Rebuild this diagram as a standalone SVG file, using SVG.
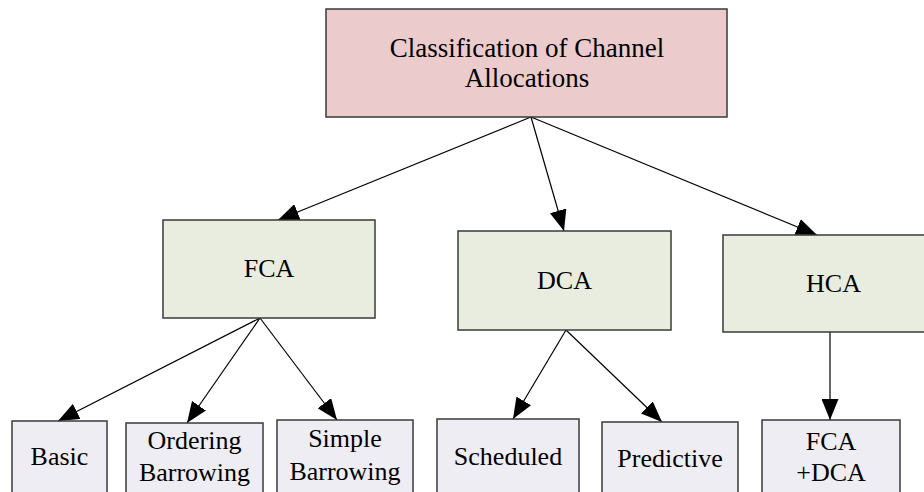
<svg xmlns="http://www.w3.org/2000/svg" width="924" height="492" viewBox="0 0 924 492">
  <defs>
    <marker id="arrow" markerUnits="userSpaceOnUse" markerWidth="22" markerHeight="17" refX="21" refY="8.5" orient="auto">
      <path d="M0,0 L21,8.5 L0,17 Z" fill="#000"/>
    </marker>
    <style>
      .box { stroke: #3a3a3a; stroke-width: 1.5; }
      .root { fill: #ebcbcb; }
      .mid { fill: #e9eddf; }
      .leaf { fill: #eeedf3; }
      .lbl { font-family: "Liberation Serif", "Times New Roman", serif; font-size: 26px; fill: #000; text-anchor: middle; }
      .edge { stroke: #000; stroke-width: 1.2; fill: none; marker-end: url(#arrow); }
    </style>
  </defs>
  <rect width="924" height="492" fill="#fff"/>

  <g id="connectors">
    <line class="edge" x1="531" y1="117" x2="278" y2="220"/>
    <line class="edge" x1="531" y1="117" x2="564" y2="231"/>
    <line class="edge" x1="531" y1="117" x2="817" y2="235"/>
    <line class="edge" x1="260" y1="318" x2="58" y2="421"/>
    <line class="edge" x1="260" y1="318" x2="187" y2="423"/>
    <line class="edge" x1="260" y1="318" x2="337" y2="420"/>
    <line class="edge" x1="566" y1="330" x2="513" y2="419"/>
    <line class="edge" x1="566" y1="330" x2="662" y2="422"/>
    <line class="edge" x1="830" y1="332" x2="830" y2="420"/>
  </g>

  <g id="root">
    <rect class="box root" x="326" y="9" width="401" height="108"/>
    <text class="lbl" x="527" y="57" style="font-size:27px">Classification of Channel</text>
    <text class="lbl" x="527" y="87" style="font-size:27px">Allocations</text>
  </g>

  <g id="fca">
    <rect class="box mid" x="163" y="220" width="212" height="98"/>
    <text class="lbl" x="269" y="277">FCA</text>
  </g>
  <g id="dca">
    <rect class="box mid" x="458" y="231" width="213" height="99"/>
    <text class="lbl" x="564.5" y="289">DCA</text>
  </g>
  <g id="hca">
    <rect class="box mid" x="723" y="235" width="222" height="97"/>
    <text class="lbl" x="833.5" y="292">HCA</text>
  </g>

  <g id="basic">
    <rect class="box leaf" x="12" y="421" width="95" height="80"/>
    <text class="lbl" x="59.5" y="465">Basic</text>
  </g>
  <g id="ordering-barrowing">
    <rect class="box leaf" x="126" y="423" width="137" height="80"/>
    <text class="lbl" x="194.5" y="449">Ordering</text>
    <text class="lbl" x="194.5" y="481">Barrowing</text>
  </g>
  <g id="simple-barrowing">
    <rect class="box leaf" x="277" y="420" width="136" height="80"/>
    <text class="lbl" x="345" y="447">Simple</text>
    <text class="lbl" x="345" y="480">Barrowing</text>
  </g>
  <g id="scheduled">
    <rect class="box leaf" x="437" y="419" width="142" height="80"/>
    <text class="lbl" x="508" y="465">Scheduled</text>
  </g>
  <g id="predictive">
    <rect class="box leaf" x="602" y="422" width="136" height="80"/>
    <text class="lbl" x="670" y="467">Predictive</text>
  </g>
  <g id="fca-dca">
    <rect class="box leaf" x="762" y="420" width="138" height="80"/>
    <text class="lbl" x="831" y="450">FCA</text>
    <text class="lbl" x="831" y="481">+DCA</text>
  </g>
</svg>
